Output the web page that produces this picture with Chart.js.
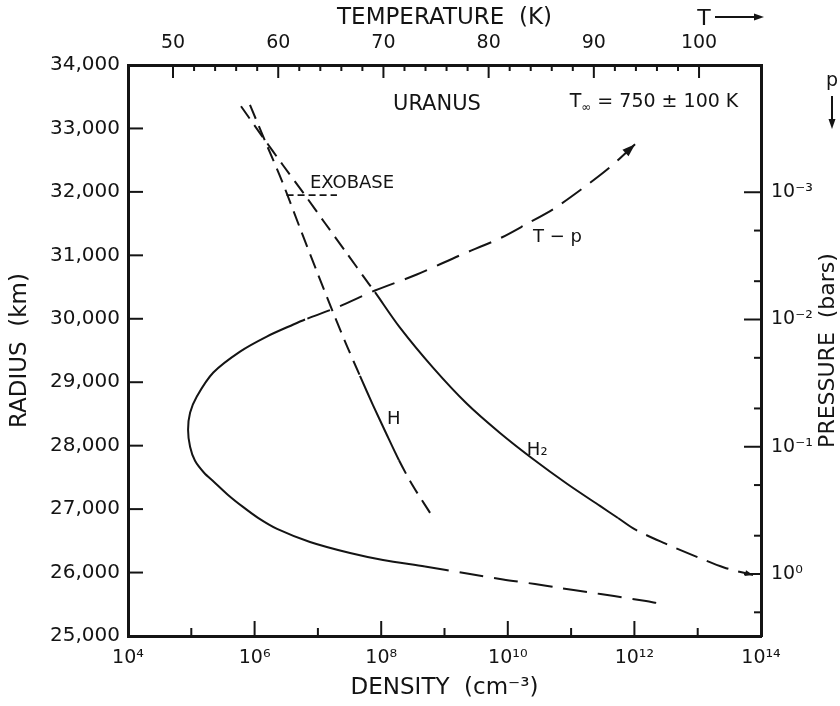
<!DOCTYPE html>
<html>
<head>
<meta charset="utf-8">
<script src="https://cdn.jsdelivr.net/npm/chart.js@4.4.1/dist/chart.umd.min.js"></script>
<style>
  html, body { margin: 0; padding: 0; background: #fff; }
</style>
</head>
<body>
<canvas id="uranusChart" width="840" height="706"></canvas>
<script>
const ink = '#141414';
const FONT = '"DejaVu Sans", sans-serif';

// axis ticks
const densityTicks = [1e4, 1e5, 1e6, 1e7, 1e8, 1e9, 1e10, 1e11, 1e12, 1e13, 1e14];
const radiusTicks = [25000, 26000, 27000, 28000, 29000, 30000, 31000, 32000, 33000, 34000];
const tempTicks = [50, 60, 70, 80, 90, 100];
const tempMinorTicks = [52, 54, 56, 58, 62, 64, 66, 68, 72, 74, 76, 78, 82, 84, 86, 88, 92, 94, 96, 98];
const pressureTicks = [1e-3, 1e-2, 1e-1, 1];
const pressureMinorTicks = [2e-3, 5e-3, 2e-2, 5e-2, 2e-1, 5e-1, 2];

// H atoms: density (cm-3) vs radius (km)
const hDensity = [8.45e5, 1.51e6, 2.71e6, 5.21e6, 9.68e6, 1.73e7, 2.88e7, 4.62e7, 7.41e7, 1.19e8, 1.91e8, 3.06e8, 4.74e8, 6.58e8];
const hRadius  = [33370, 32770, 32170, 31430, 30740, 30105, 29570, 29100, 28640, 28200, 27770, 27390, 27090, 26870];

// H2: density (cm-3) vs radius (km)
const h2Density = [6.10e5, 1.31e6, 2.81e6, 6.03e6, 1.29e7, 2.78e7, 5.97e7, 7.98e7, 1.98e8, 6.58e8, 2.26e9, 7.53e9, 2.50e10, 8.61e10, 2.86e11, 5.51e11, 1.02e12, 3.04e12, 9.06e12, 2.60e13, 7.48e13];
const h2Radius  = [33350, 32880, 32420, 31970, 31510, 31050, 30590, 30420, 29860, 29230, 28660, 28200, 27790, 27400, 27050, 26860, 26680, 26460, 26260, 26080, 25960];

// T-p profile: temperature (K) vs pressure (bars)
const tpTemperature = [93.92, 91.54, 88.69, 86.12, 83.75, 81.08, 77.28, 73.17, 69.2, 65.56, 62.55, 61.44, 58.91, 56.37, 53.83, 52.25, 51.62, 51.43, 51.62, 52.09, 52.95, 53.9, 55.23, 56.65, 58.08, 59.89, 63.02, 66.83, 69.96, 73.95, 77.95, 81.37, 84.41, 86.79, 89.35, 91.92, 94.96, 96.0];
const tpPressure    = [4.19e-4, 6.35e-4, 9.64e-4, 1.36e-3, 1.75e-3, 2.30e-3, 3.13e-3, 4.43e-3, 5.92e-3, 8.05e-3, 1.00e-2, 1.094e-2, 1.361e-2, 1.786e-2, 2.61e-2, 4.04e-2, 5.40e-2, 7.35e-2, 0.100, 0.129, 0.160, 0.189, 0.239, 0.297, 0.362, 0.442, 0.560, 0.684, 0.776, 0.873, 0.991, 1.104, 1.199, 1.289, 1.386, 1.490, 1.632, 1.690];

// exobase level
const exobaseDensity = [3.2e6, 2.0e7];
const exobaseRadius  = [31950, 31950];

// text placed in data coordinates (density, radius)
const notes = [
  { text: 'URANUS', x: 7.6e8, y: 33370, align: 'center', size: 21 },
  { text: 'EXOBASE', x: 7.5e6, y: 32140, align: 'left', size: 18 },
  { text: 'H', x: 1.23e8, y: 28420, align: 'left', size: 18 },
  { text: 'H₂', x: 2.0e10, y: 27930, align: 'left', size: 18 },
  { text: 'T − p', x: 2.5e10, y: 31280, align: 'left', size: 18 }
];

const sup = n => String(n).split('').map(c => '⁻⁰¹²³⁴⁵⁶⁷⁸⁹'['-0123456789'.indexOf(c)]).join('');
const pts = (xs, ys) => xs.map((v, i) => ({ x: v, y: ys[i] }));

const inwardTicks = {
  id: 'inwardTicks',
  afterDraw(chart) {
    const { ctx, chartArea: a, scales } = chart;
    ctx.save();
    ctx.strokeStyle = ink;
    ctx.lineWidth = 2;
    const tick = (x1, y1, x2, y2) => { ctx.beginPath(); ctx.moveTo(x1, y1); ctx.lineTo(x2, y2); ctx.stroke(); };
    densityTicks.forEach((v, i) => {
      const px = scales.x.getPixelForValue(v);
      tick(px, a.bottom, px, a.bottom - (i % 2 ? 8 : 15));
    });
    radiusTicks.forEach(v => {
      const py = scales.y.getPixelForValue(v);
      tick(a.left, py, a.left + 15, py);
    });
    tempTicks.forEach(v => {
      const px = scales.temp.getPixelForValue(v);
      tick(px, a.top, px, a.top + 13);
    });
    tempMinorTicks.forEach(v => {
      const px = scales.temp.getPixelForValue(v);
      tick(px, a.top, px, a.top + 6);
    });
    pressureTicks.forEach(v => {
      const py = scales.pres.getPixelForValue(v);
      tick(a.right, py, a.right - 17, py);
    });
    pressureMinorTicks.forEach(v => {
      const py = scales.pres.getPixelForValue(v);
      tick(a.right, py, a.right - 7, py);
    });
    ctx.restore();
  }
};

const arrowHeads = {
  id: 'arrowHeads',
  afterDatasetsDraw(chart) {
    const { ctx } = chart;
    const head = (tip, from, len, half) => {
      const ang = Math.atan2(tip.y - from.y, tip.x - from.x);
      ctx.beginPath();
      ctx.moveTo(tip.x, tip.y);
      ctx.lineTo(tip.x - len * Math.cos(ang) + half * Math.sin(ang), tip.y - len * Math.sin(ang) - half * Math.cos(ang));
      ctx.lineTo(tip.x - len * Math.cos(ang) - half * Math.sin(ang), tip.y - len * Math.sin(ang) + half * Math.cos(ang));
      ctx.closePath();
      ctx.fill();
    };
    ctx.save();
    ctx.fillStyle = ink;
    const tp = chart.getDatasetMeta(2).data;
    head(tp[0], tp[1], 13, 4.5);
    const h2 = chart.getDatasetMeta(1).data;
    head(h2[h2.length - 1], h2[h2.length - 2], 8, 3);
    ctx.restore();
  }
};

const plotNotes = {
  id: 'plotNotes',
  afterDraw(chart) {
    const { ctx, chartArea: a, scales: { x, y } } = chart;
    ctx.save();
    ctx.fillStyle = ink;
    ctx.strokeStyle = ink;
    ctx.textBaseline = 'middle';
    notes.forEach(n => {
      ctx.font = `${n.size}px ${FONT}`;
      ctx.textAlign = n.align;
      ctx.fillText(n.text, x.getPixelForValue(n.x), y.getPixelForValue(n.y));
    });

    // T∞ = 750 ± 100 K
    let tx = x.getPixelForValue(9.5e10);
    const ty = y.getPixelForValue(33410);
    ctx.textAlign = 'left';
    ctx.font = `19px ${FONT}`;
    ctx.fillText('T', tx, ty);
    tx += ctx.measureText('T').width;
    ctx.font = `12px ${FONT}`;
    ctx.fillText('∞', tx, ty + 5);
    tx += ctx.measureText('∞').width;
    ctx.font = `19px ${FONT}`;
    ctx.fillText(' = 750 ± 100 K', tx, ty);

    // right axis title, reading upward
    ctx.save();
    ctx.translate(a.right + 67, (a.top + a.bottom) / 2);
    ctx.rotate(-Math.PI / 2);
    ctx.textAlign = 'center';
    ctx.font = `22px ${FONT}`;
    ctx.fillText('PRESSURE  (bars)', 0, 0);
    ctx.restore();

    // "T ->" marker at top right
    ctx.font = `22px ${FONT}`;
    ctx.textAlign = 'center';
    ctx.fillText('T', a.right - 57, 19);
    ctx.lineWidth = 2;
    ctx.beginPath();
    ctx.moveTo(a.right - 46, 17);
    ctx.lineTo(a.right - 4, 17);
    ctx.stroke();
    ctx.beginPath();
    ctx.moveTo(a.right + 3, 17);
    ctx.lineTo(a.right - 7, 13.5);
    ctx.lineTo(a.right - 7, 20.5);
    ctx.closePath();
    ctx.fill();

    // "p" with down arrow at right
    ctx.font = `19px ${FONT}`;
    ctx.fillText('p', a.right + 71, a.top + 16);
    ctx.beginPath();
    ctx.moveTo(a.right + 71, a.top + 31);
    ctx.lineTo(a.right + 71, a.top + 56);
    ctx.stroke();
    ctx.beginPath();
    ctx.moveTo(a.right + 71, a.top + 64);
    ctx.lineTo(a.right + 67.5, a.top + 54);
    ctx.lineTo(a.right + 74.5, a.top + 54);
    ctx.closePath();
    ctx.fill();
    ctx.restore();
  }
};

const tickFont = { family: FONT, size: 19 };
const titleFont = { family: FONT, size: 23 };
const axisBorder = { display: true, color: ink, width: 3 };
const noGrid = { display: false, drawTicks: false };

new Chart(document.getElementById('uranusChart'), {
  type: 'scatter',
  data: {
    datasets: [
      {
        label: 'H',
        data: pts(hDensity, hRadius),
        xAxisID: 'x', yAxisID: 'y',
        showLine: true, borderColor: ink, borderWidth: 2, pointRadius: 0, tension: 0.3,
        segment: { borderDash: c => (c.p0DataIndex < 7 || c.p0DataIndex >= 10) ? [15, 8] : undefined }
      },
      {
        label: 'H2',
        data: pts(h2Density, h2Radius),
        xAxisID: 'x', yAxisID: 'y',
        showLine: true, borderColor: ink, borderWidth: 2, pointRadius: 0, tension: 0.3,
        segment: { borderDash: c => c.p0DataIndex < 7 ? [15, 8] : (c.p0DataIndex >= 15 ? [23, 10] : undefined) }
      },
      {
        label: 'T-p',
        data: pts(tpTemperature, tpPressure),
        xAxisID: 'temp', yAxisID: 'pres',
        showLine: true, borderColor: ink, borderWidth: 2, pointRadius: 0, tension: 0.3,
        segment: { borderDash: c => (c.p0DataIndex < 10 || c.p0DataIndex >= 29) ? [24, 11] : undefined }
      },
      {
        label: 'Exobase',
        data: pts(exobaseDensity, exobaseRadius),
        xAxisID: 'x', yAxisID: 'y',
        showLine: true, borderColor: ink, borderWidth: 1.8, pointRadius: 0,
        borderDash: [7, 4]
      }
    ]
  },
  options: {
    responsive: false,
    animation: false,
    layout: { padding: 0 },
    plugins: { legend: { display: false }, tooltip: { enabled: false } },
    scales: {
      x: {
        type: 'logarithmic', position: 'bottom', min: 1e4, max: 1e14,
        afterBuildTicks: s => { s.ticks = densityTicks.map(v => ({ value: v })); },
        afterFit: s => { s.height = 70; },
        grid: noGrid, border: axisBorder,
        ticks: {
          autoSkip: false, maxRotation: 0, padding: 11, color: ink, font: tickFont,
          callback: v => { const e = Math.round(Math.log10(v)); return e % 2 === 0 ? '10' + sup(e) : ''; }
        },
        title: { display: true, text: 'DENSITY  (cm⁻³)', color: ink, font: titleFont, padding: { top: 0, bottom: 4 } }
      },
      y: {
        type: 'linear', position: 'left', min: 25000, max: 34000,
        afterBuildTicks: s => { s.ticks = radiusTicks.map(v => ({ value: v })); },
        afterFit: s => { s.width = 128; },
        grid: noGrid, border: axisBorder,
        ticks: { autoSkip: false, padding: 8, color: ink, font: { family: FONT, size: 20 }, callback: v => v.toLocaleString('en-US') },
        title: { display: true, text: 'RADIUS  (km)', color: ink, font: titleFont, padding: { top: 6, bottom: 0 } }
      },
      temp: {
        type: 'linear', position: 'top', min: 45.72, max: 105.89,
        afterBuildTicks: s => { s.ticks = tempTicks.map(v => ({ value: v })); },
        afterFit: s => { s.height = 65; },
        grid: noGrid, border: axisBorder,
        ticks: { autoSkip: false, maxRotation: 0, padding: 11, color: ink, font: tickFont },
        title: { display: true, text: 'TEMPERATURE  (K)', color: ink, font: titleFont, padding: { top: 4, bottom: 0 } }
      },
      pres: {
        type: 'logarithmic', position: 'right', reverse: true, min: 1e-4, max: 3.07,
        afterBuildTicks: s => { s.ticks = pressureTicks.map(v => ({ value: v })); },
        afterFit: s => { s.width = 79; },
        grid: noGrid, border: axisBorder,
        ticks: {
          autoSkip: false, padding: 10, color: ink, font: tickFont,
          callback: v => '10' + sup(Math.round(Math.log10(v)))
        }
      }
    }
  },
  plugins: [inwardTicks, arrowHeads, plotNotes]
});
</script>
</body>
</html>
